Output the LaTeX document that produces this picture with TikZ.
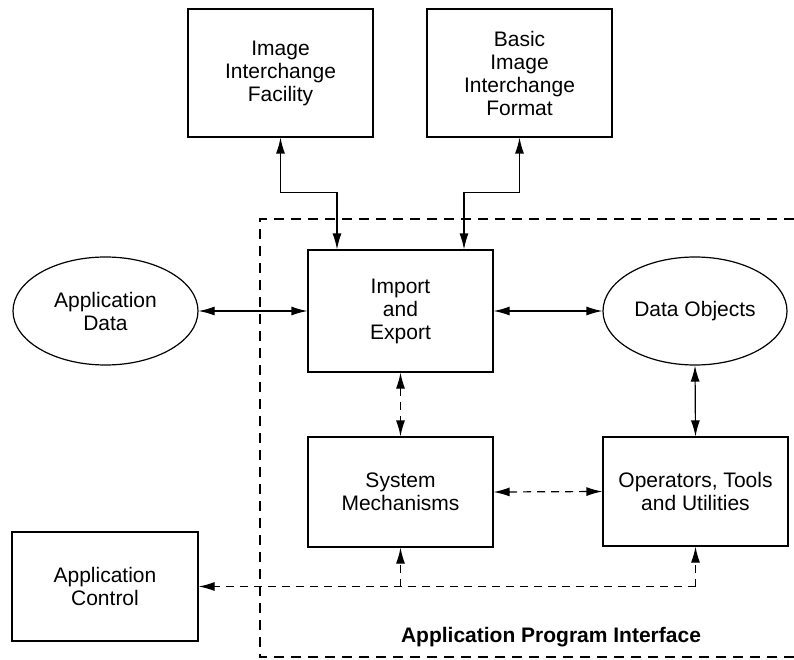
\documentclass[tikz,border=0pt]{standalone}
\usepackage{fontspec}
\setmainfont{Liberation Sans}
\usetikzlibrary{arrows.meta,shapes.geometric,calc}
\begin{document}
\begin{tikzpicture}[x=1pt,y=-1pt,
  every node/.style={font=\fontsize{21}{23}\selectfont, align=center},
  box/.style={draw, line width=1.2pt, rectangle, inner sep=0pt},
  oval/.style={draw, line width=1.2pt, ellipse, inner sep=0pt},
  link/.style={line width=1.2pt, {Latex[length=16pt,width=9pt]}-{Latex[length=16pt,width=9pt]}},
  dlink/.style={link, dash pattern=on 8pt off 6pt},
  uplink/.style={line width=1.2pt, dash pattern=on 8pt off 6pt, -{Latex[length=16pt,width=9pt]}},
  boundary/.style={line width=2.6pt, dash pattern=on 10pt off 7pt}
]
\useasboundingbox (0,0) rectangle (794,660);
% API boundary
\draw[boundary] (794,219) -- (260,219) -- (260,657) -- (794,657);
% nodes
\node[box, minimum width=185pt, minimum height=128pt] (iif) at (280.5,73) {Image\\Interchange\\Facility};
\node[box, minimum width=185pt, minimum height=128pt] (biif) at (519.5,73) {Basic\\Image\\Interchange\\Format};
\node[box, minimum width=185pt, minimum height=122pt] (imp) at (400.5,311) {Import\\and\\Export};
\node[oval, minimum width=185pt, minimum height=108pt] (adata) at (105.5,311) {Application\\Data};
\node[oval, minimum width=184pt, minimum height=108pt] (dobj) at (695,311) {Data Objects};
\node[box, minimum width=185pt, minimum height=110pt] (sys) at (400.5,492) {System\\Mechanisms};
\node[box, minimum width=185pt, minimum height=109pt] (ops) at (695.5,491.5) {Operators, Tools\\and Utilities};
\node[box, minimum width=186pt, minimum height=109pt] (actl) at (105,586.5) {Application\\Control};
\node[font=\fontsize{21}{23}\selectfont\bfseries] (api) at (551,637) {Application Program Interface};
% connectors
\draw[link] (iif.south) -- ++(0,55) -| ([xshift=-63.5pt]imp.north);
\draw[link] (biif.south) -- ++(0,55) -| ([xshift=63.5pt]imp.north);
\draw[link] (adata.east) -- (imp.west);
\draw[link] (imp.east) -- (dobj.west);
\draw[link] (dobj.south) -- (ops.north);
\draw[dlink] (imp.south) -- (sys.north);
\draw[dlink] (sys.east) -- (ops.west);
\coordinate (jo) at (ops.south |- actl.east);
\coordinate (js) at (sys.south |- actl.east);
\draw[uplink] (jo) -- (actl.east);
\draw[uplink] (jo) -- (ops.south);
\draw[uplink] (js) -- (sys.south);
\end{tikzpicture}
\end{document}
